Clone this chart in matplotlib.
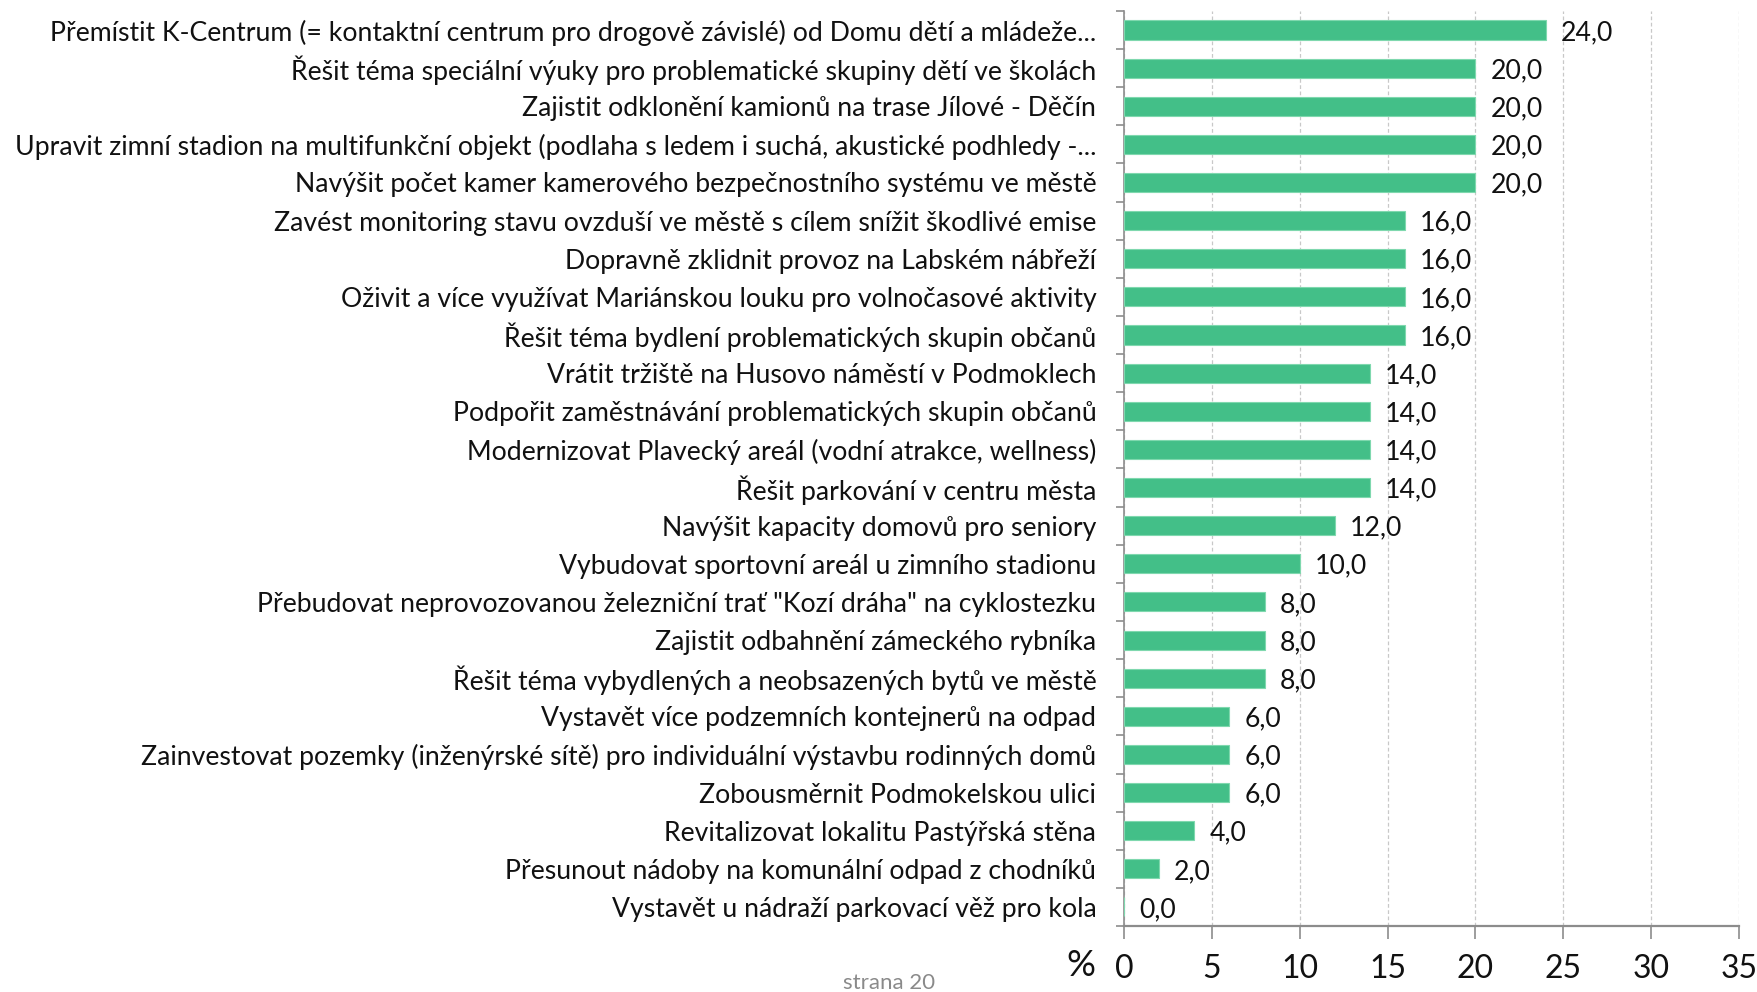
import matplotlib
matplotlib.use("Agg")
import matplotlib.pyplot as plt
import matplotlib.transforms as mtransforms
import numpy as np

categories = [
    "Přemístit K-Centrum (= kontaktní centrum pro drogově závislé) od Domu dětí a mládeže...",
    "Řešit téma speciální výuky pro problematické skupiny dětí ve školách",
    "Zajistit odklonění kamionů na trase Jílové - Děčín",
    "Upravit zimní stadion na multifunkční objekt (podlaha s ledem i suchá, akustické podhledy -...",
    "Navýšit počet kamer kamerového bezpečnostního systému ve městě",
    "Zavést monitoring stavu ovzduší ve městě s cílem snížit škodlivé emise",
    "Dopravně zklidnit provoz na Labském nábřeží",
    "Oživit a více využívat Mariánskou louku pro volnočasové aktivity",
    "Řešit téma bydlení problematických skupin občanů",
    "Vrátit tržiště na Husovo náměstí v Podmoklech",
    "Podpořit zaměstnávání problematických skupin občanů",
    "Modernizovat Plavecký areál (vodní atrakce, wellness)",
    "Řešit parkování v centru města",
    "Navýšit kapacity domovů pro seniory",
    "Vybudovat sportovní areál u zimního stadionu",
    "Přebudovat neprovozovanou železniční trať \"Kozí dráha\" na cyklostezku",
    "Zajistit odbahnění zámeckého rybníka",
    "Řešit téma vybydlených a neobsazených bytů ve městě",
    "Vystavět více podzemních kontejnerů na odpad",
    "Zainvestovat pozemky (inženýrské sítě) pro individuální výstavbu rodinných domů",
    "Zobousměrnit Podmokelskou ulici",
    "Revitalizovat lokalitu Pastýřská stěna",
    "Přesunout nádoby na komunální odpad z chodníků",
    "Vystavět u nádraží parkovací věž pro kola",
]
values = [24.0, 20.0, 20.0, 20.0, 20.0, 16.0, 16.0, 16.0, 16.0, 14.0, 14.0, 14.0,
          14.0, 12.0, 10.0, 8.0, 8.0, 8.0, 6.0, 6.0, 6.0, 4.0, 2.0, 0.0]
x_ticks = [0, 5, 10, 15, 20, 25, 30, 35]

FONT = ["Lato", "DejaVu Sans"]
plt.rcParams["font.family"] = FONT

fig = plt.figure(figsize=(17.58, 9.92), dpi=100)
ax = fig.add_axes([0.6394, 0.0665, 0.3498, 0.9225])

n = len(categories)
y = np.arange(n)
ax.barh(y, values, height=0.5, color="#43BF88", edgecolor="#7FD8AE", linewidth=0.8, zorder=3)
ax.set_ylim(n - 0.5, -0.5)
ax.set_xlim(0, 35)

ax.set_yticks(y)
ax.set_yticklabels(categories, fontsize=19.2, color="#111111")
ax.tick_params(axis="y", which="major", length=0, pad=20)
ax.set_yticks(np.arange(-0.5, n, 1.0), minor=True)
ax.tick_params(axis="y", which="minor", length=6, width=1.2, color="#8c8c8c", direction="out")

ax.set_xticks(x_ticks)
ax.set_xticklabels([str(t) for t in x_ticks], fontsize=23, color="#111111")
ax.tick_params(axis="x", length=9, width=1.2, color="#8c8c8c", direction="out", pad=11)

ax.grid(axis="x", color="#c8c8c8", linestyle=(0, (3, 2)), linewidth=0.9, zorder=0)
for s in ["top", "right"]:
    ax.spines[s].set_visible(False)
ax.spines["left"].set_color("#8c8c8c")
ax.spines["left"].set_linewidth(1.2)
ax.spines["bottom"].set_color("#8c8c8c")
ax.spines["bottom"].set_linewidth(1.6)

shift = mtransforms.offset_copy(ax.transData, fig=fig, x=0, y=-2.5, units="dots")
for yi, v in zip(y, values):
    ax.text(v + 0.85, yi, f"{v:.1f}".replace(".", ","), va="center", ha="left",
            fontsize=19.2, color="#111111", zorder=4, transform=shift)

fig.text(1081 / 1758, 1 - 966 / 992, "%", fontsize=26, ha="center", va="center", color="#111111")
fig.text(889 / 1758, 1 - 983 / 992, "strana 20", fontsize=16, ha="center", va="center", color="#8a8a8a")

fig.savefig("out.png", dpi=100)
